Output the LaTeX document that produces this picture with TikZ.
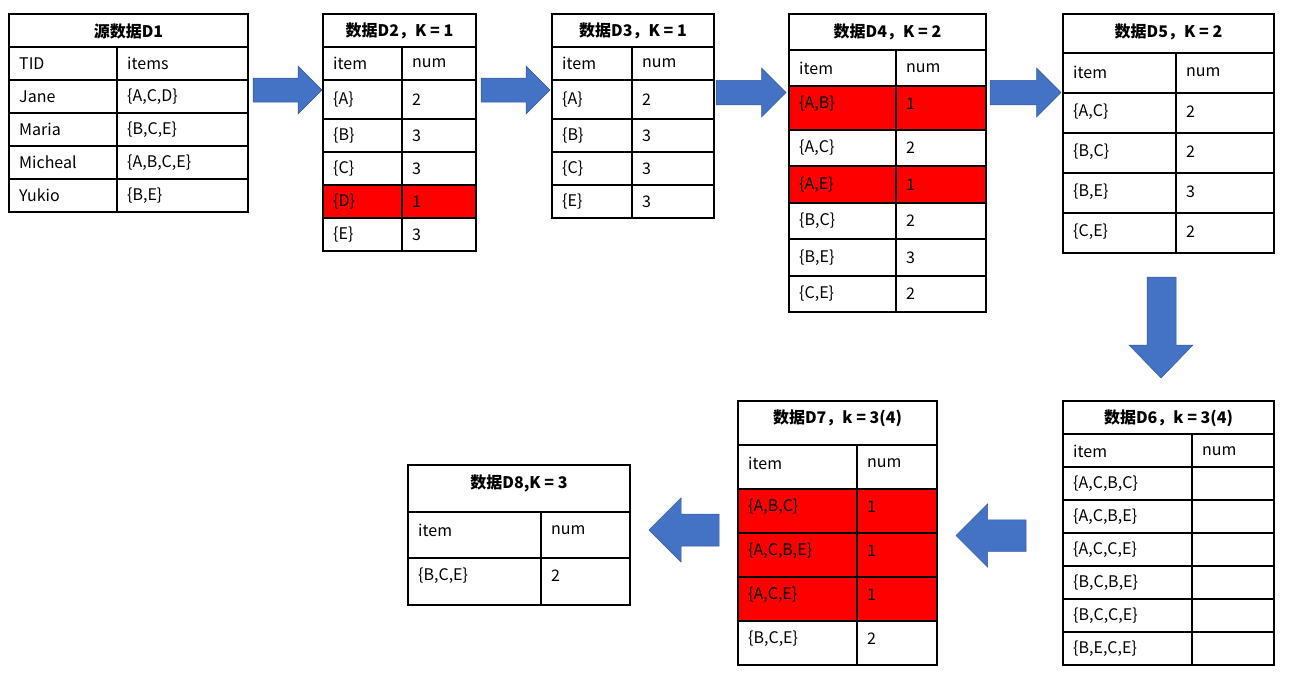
\documentclass[tikz,border=0pt]{standalone}
\usepackage{fontspec}
\setmainfont{Noto Sans CJK SC}
\definecolor{arr}{HTML}{4472C4}
\tikzset{ln/.style={draw=black,line width=1.2pt},
 tx/.style={anchor=west,font=\fontsize{16}{18}\selectfont,inner sep=0pt},
 hd/.style={anchor=center,font=\fontsize{16}{18}\selectfont\bfseries,inner sep=0pt},
 hot/.style={fill=red,draw=none},
 blk/.style={fill=arr,draw=arr!80!black,line width=0.5pt}}
% \tbl{name}{x1}{x2}{split}{header y1,y2}{list of row boundaries after header}{header text}
\newcommand\mytbl[7]{%
 \draw[ln] (#2,#5) rectangle (#3,#6);
 \node[hd] (#1h) at ({(#2+#3)/2},{(#5+#7)/2}) {#4};
}
\begin{document}
\begin{tikzpicture}[x=1pt,y=-1pt]
\useasboundingbox (0,0) rectangle (1292,678);
% ---------- D1
\draw[ln] (9,14) rectangle (248,212);
\foreach \y in {47,80,113,146,179} \draw[ln] (9,\y) -- (248,\y);
\draw[ln] (117,47) -- (117,212);
\node[hd] (d1h) at (128.5,31) {源数据D1};
\foreach \a/\b/\y [count=\i] in {TID/items/63.5,Jane/{\{A,C,D\}}/96.5,Maria/{\{B,C,E\}}/129.5,Micheal/{\{A,B,C,E\}}/162.5,Yukio/{\{B,E\}}/195.5}{
 \node[tx] (d1a\i) at (19,\y) {\a}; \node[tx] (d1b\i) at (127,\y) {\b};}
% ---------- D2
\fill[red] (323,185) rectangle (476,218);
\draw[ln] (323,14) rectangle (476,251);
\foreach \y in {47,80,119,152,185,218} \draw[ln] (323,\y) -- (476,\y);
\draw[ln] (402,47) -- (402,251);
\node[hd] (d2h) at (399.5,31) {数据D2，K = 1};
\foreach \a/\b/\y [count=\i] in {item/num/63.5,{\{A\}}/2/99.5,{\{B\}}/3/135.5,{\{C\}}/3/168.5,{\{D\}}/1/201.5,{\{E\}}/3/234.5}{
 \node[tx] (d2a\i) at (333,\y) {\a}; \node[tx] (d2b\i) at (412,\y) {\b};}
% ---------- D3
\draw[ln] (552,14) rectangle (714,218);
\foreach \y in {47,80,119,152,185} \draw[ln] (552,\y) -- (714,\y);
\draw[ln] (632,47) -- (632,218);
\node[hd] (d3h) at (633,31) {数据D3，K = 1};
\foreach \a/\b/\y [count=\i] in {item/num/63.5,{\{A\}}/2/99.5,{\{B\}}/3/135.5,{\{C\}}/3/168.5,{\{E\}}/3/201.5}{
 \node[tx] (d3a\i) at (562,\y) {\a}; \node[tx] (d3b\i) at (642,\y) {\b};}
% ---------- D4
\fill[red] (789,86) rectangle (986,130);
\fill[red] (789,166) rectangle (986,203);
\draw[ln] (789,14) rectangle (986,312);
\foreach \y in {50,86,130,166,203,239,276} \draw[ln] (789,\y) -- (986,\y);
\draw[ln] (896,50) -- (896,312);
\node[hd] (d4h) at (887.5,32) {数据D4，K = 2};
\foreach \a/\b/\y [count=\i] in {item/num/68,{\{A,B\}}/1/104,{\{A,C\}}/2/148,{\{A,E\}}/1/184.5,{\{B,C\}}/2/221,{\{B,E\}}/3/257.5,{\{C,E\}}/2/294}{
 \node[tx] (d4a\i) at (799,\y) {\a}; \node[tx] (d4b\i) at (906,\y) {\b};}
% ---------- D5
\draw[ln] (1063,14) rectangle (1274,253);
\foreach \y in {53,93,133,173,213} \draw[ln] (1063,\y) -- (1274,\y);
\draw[ln] (1176,53) -- (1176,253);
\node[hd] (d5h) at (1168.5,32) {数据D5，K = 2};
\foreach \a/\b/\y [count=\i] in {item/num/72,{\{A,C\}}/2/112,{\{B,C\}}/2/152,{\{B,E\}}/3/192,{\{C,E\}}/2/232}{
 \node[tx] (d5a\i) at (1073,\y) {\a}; \node[tx] (d5b\i) at (1186,\y) {\b};}
% ---------- D6
\draw[ln] (1063,401) rectangle (1274,665);
\foreach \y in {434,467,500,533,566,599,632} \draw[ln] (1063,\y) -- (1274,\y);
\draw[ln] (1192,434) -- (1192,665);
\node[hd] (d6h) at (1168.5,418) {数据D6，k = 3(4)};
\node[tx] (d6b) at (1202,451) {num};
\foreach \a/\y [count=\i] in {item/451,{\{A,C,B,C\}}/484,{\{A,C,B,E\}}/517,{\{A,C,C,E\}}/550,{\{B,C,B,E\}}/583,{\{B,C,C,E\}}/616,{\{B,E,C,E\}}/649}{
 \node[tx] (d6a\i) at (1073,\y) {\a};}
% ---------- D7
\fill[red] (738,489) rectangle (937,621);
\draw[ln] (738,401) rectangle (937,665);
\foreach \y in {445,489,533,577,621} \draw[ln] (738,\y) -- (937,\y);
\draw[ln] (857,445) -- (857,665);
\node[hd] (d7h) at (837.5,418) {数据D7，k = 3(4)};
\foreach \a/\b/\y [count=\i] in {item/num/463,{\{A,B,C\}}/1/507,{\{A,C,B,E\}}/1/551,{\{A,C,E\}}/1/595,{\{B,C,E\}}/2/639}{
 \node[tx] (d7a\i) at (748,\y) {\a}; \node[tx] (d7b\i) at (867,\y) {\b};}
% ---------- D8
\draw[ln] (408,465) rectangle (630,605);
\foreach \y in {512,558} \draw[ln] (408,\y) -- (630,\y);
\draw[ln] (541,512) -- (541,605);
\node[hd] (d8h) at (519,483) {数据D8,K = 3};
\foreach \a/\b/\y [count=\i] in {item/num/530,{\{B,C,E\}}/2/576}{
 \node[tx] (d8a\i) at (418,\y) {\a}; \node[tx] (d8b\i) at (551,\y) {\b};}
% ---------- block arrows
\foreach \xa/\xb/\ya/\yb in {253/322/66/114,481/550/66/114,716/786/68/117,990/1061/68/117}{
 \pgfmathsetmacro\h{\xb-(\yb-\ya)/2}
 \pgfmathsetmacro\m{(\ya+\yb)/2}
 \pgfmathsetmacro\q{(\yb-\ya)/4}
 \filldraw[blk] (\xa,\m-\q) -- (\h,\m-\q) -- (\h,\ya) -- (\xb,\m) -- (\h,\yb) -- (\h,\m+\q) -- (\xa,\m+\q) -- cycle;}
\filldraw[blk] (1147,277) -- (1176,277) -- (1176,345) -- (1193,345) -- (1161,378) -- (1129,345) -- (1147,345) -- cycle;
\foreach \xa/\xb/\ya/\yb in {1026/956/504/567,719/649/498/562}{
 \pgfmathsetmacro\h{\xb+(\yb-\ya)/2}
 \pgfmathsetmacro\m{(\ya+\yb)/2}
 \pgfmathsetmacro\q{(\yb-\ya)/4}
 \filldraw[blk] (\xa,\m-\q) -- (\h,\m-\q) -- (\h,\ya) -- (\xb,\m) -- (\h,\yb) -- (\h,\m+\q) -- (\xa,\m+\q) -- cycle;}
\end{tikzpicture}
\end{document}
